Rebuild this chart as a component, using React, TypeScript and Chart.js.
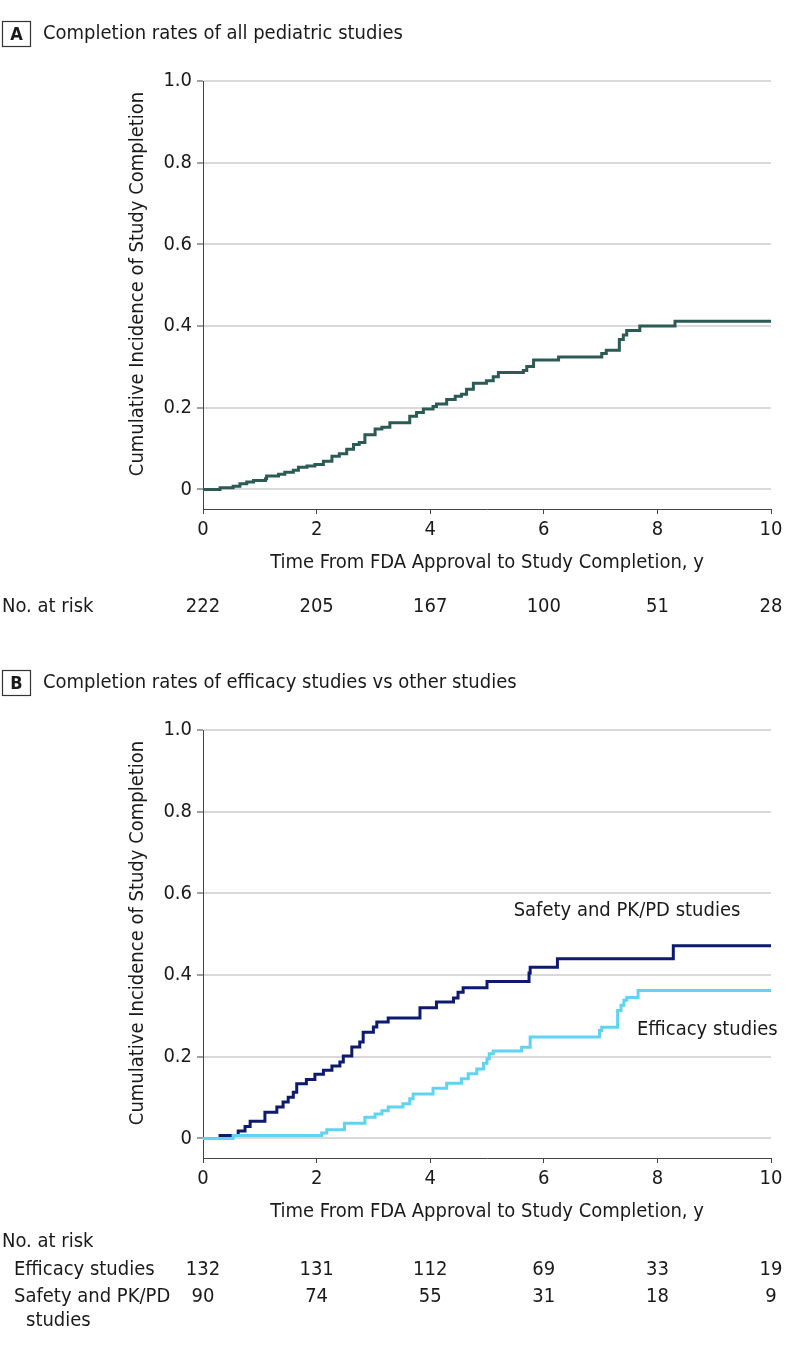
import React, { useEffect, useRef } from "react";
import { Chart, registerables } from "chart.js";
Chart.register(...registerables);

const FONT = "'DejaVu Sans Condensed', 'DejaVu Sans', sans-serif";
const TEXT = "#1a1a1a";

const xTickValues = [0, 2, 4, 6, 8, 10];
const yTickValues = [0, 0.2, 0.4, 0.6, 0.8, 1.0];

const xTitle = "Time From FDA Approval to Study Completion, y";
const yTitle = "Cumulative Incidence of Study Completion";

// Panel A: all pediatric studies
const allTimes = [0, 0.30, 0.53, 0.65, 0.77, 0.89, 1.10, 1.12, 1.33, 1.44, 1.59, 1.68, 1.83, 1.97, 2.12, 2.27, 2.40, 2.53, 2.65, 2.75, 2.85, 3.03, 3.15, 3.29, 3.64, 3.76, 3.88, 4.05, 4.11, 4.29, 4.44, 4.55, 4.64, 4.76, 4.99, 5.11, 5.20, 5.64, 5.70, 5.82, 6.26, 7.02, 7.10, 7.33, 7.40, 7.46, 7.69, 8.31, 10.0];
const allValues = [0, 0.004, 0.008, 0.014, 0.018, 0.022, 0.026, 0.033, 0.037, 0.042, 0.047, 0.054, 0.057, 0.061, 0.069, 0.081, 0.087, 0.098, 0.110, 0.115, 0.134, 0.148, 0.152, 0.163, 0.179, 0.188, 0.197, 0.203, 0.209, 0.220, 0.228, 0.233, 0.245, 0.260, 0.266, 0.276, 0.286, 0.291, 0.301, 0.317, 0.324, 0.333, 0.341, 0.367, 0.378, 0.389, 0.400, 0.412, 0.412];
const atRiskAll = [222, 205, 167, 100, 51, 28];

// Panel B: safety and PK/PD studies
const safTimes = [0, 0.30, 0.62, 0.74, 0.83, 1.09, 1.30, 1.41, 1.50, 1.59, 1.65, 1.82, 1.97, 2.12, 2.27, 2.41, 2.47, 2.62, 2.76, 2.82, 3.00, 3.06, 3.26, 3.82, 4.11, 4.41, 4.49, 4.58, 5.00, 5.74, 5.76, 6.24, 8.28, 10.0];
const safValues = [0, 0.007, 0.018, 0.029, 0.042, 0.064, 0.077, 0.089, 0.101, 0.113, 0.134, 0.144, 0.157, 0.167, 0.177, 0.187, 0.202, 0.224, 0.236, 0.260, 0.273, 0.285, 0.295, 0.320, 0.334, 0.344, 0.358, 0.369, 0.384, 0.405, 0.419, 0.440, 0.472, 0.472];
// Panel B: efficacy studies
const effTimes = [0, 0.53, 2.09, 2.18, 2.49, 2.85, 3.03, 3.15, 3.26, 3.52, 3.64, 3.70, 4.05, 4.29, 4.55, 4.67, 4.82, 4.94, 5.00, 5.04, 5.11, 5.61, 5.76, 6.98, 7.02, 7.30, 7.36, 7.41, 7.46, 7.66, 10.0];
const effValues = [0, 0.007, 0.013, 0.021, 0.037, 0.052, 0.060, 0.068, 0.077, 0.085, 0.097, 0.109, 0.123, 0.135, 0.146, 0.158, 0.170, 0.184, 0.195, 0.207, 0.214, 0.223, 0.248, 0.264, 0.272, 0.313, 0.326, 0.338, 0.345, 0.362, 0.362];
const atRiskEff = [132, 131, 112, 69, 33, 19];
const atRiskSaf = [90, 74, 55, 31, 18, 9];

const COLOR_ALL = "#2c5a55";
const COLOR_SAF = "#0d1a6e";
const COLOR_EFF = "#5fd3f1";

const pts = (t: number[], v: number[]) => t.map((x, i) => ({ x, y: v[i] }));

type TextItem = { text: string; x: number; y: number; align?: CanvasTextAlign };
type RiskRow = { values: number[]; y: number };

function makeExtras(letter: string, title: string, labels: TextItem[], rows: RiskRow[]) {
  return {
    id: "extras",
    afterDraw(chart: any) {
      const ctx: CanvasRenderingContext2D = chart.ctx;
      const xs = chart.scales.x;
      ctx.save();
      ctx.fillStyle = TEXT;
      ctx.textBaseline = "middle";
      // header box
      ctx.strokeStyle = "#333";
      ctx.lineWidth = 1.2;
      ctx.strokeRect(2.5, 21.5, 28, 25);
      ctx.font = `bold 18px ${FONT}`;
      ctx.textAlign = "center";
      ctx.fillText(letter, 16.5, 35);
      ctx.font = `20px ${FONT}`;
      ctx.textAlign = "left";
      ctx.fillText(title, 43, 34);
      // y title
      ctx.save();
      ctx.translate(138, 284);
      ctx.rotate(-Math.PI / 2);
      ctx.textAlign = "center";
      ctx.fillText(yTitle, 0, 0);
      ctx.restore();
      // x title
      ctx.textAlign = "center";
      ctx.fillText(xTitle, (chart.chartArea.left + chart.chartArea.right) / 2, 563);
      // labels
      labels.forEach((l) => {
        ctx.textAlign = l.align || "left";
        ctx.fillText(l.text, l.x, l.y);
      });
      // at-risk numbers
      rows.forEach((r) => {
        ctx.textAlign = "center";
        r.values.forEach((v, i) => {
          ctx.fillText(String(v), xs.getPixelForValue(xTickValues[i]), r.y);
        });
      });
      ctx.restore();
    },
  };
}

function buildConfig(height: number, datasets: any[], plugin: any) {
  return {
    type: "line" as const,
    data: { datasets },
    plugins: [plugin],
    options: {
      responsive: false,
      animation: false as const,
      events: [],
      layout: { padding: { top: 81, right: 27, left: 0, bottom: 0 } },
      plugins: { legend: { display: false }, tooltip: { enabled: false } },
      elements: { point: { radius: 0 } },
      scales: {
        x: {
          type: "linear" as const,
          min: 0,
          max: 10,
          afterFit: (s: any) => { s.height = height - 509; },
          afterBuildTicks: (s: any) => { s.ticks = xTickValues.map((v) => ({ value: v })); },
          ticks: { color: TEXT, font: { family: FONT, size: 20 }, padding: 4, maxRotation: 0 },
          grid: { drawOnChartArea: false, drawTicks: true, tickLength: 5, tickColor: "#444", tickWidth: 1 },
          border: { display: true, color: "#444", width: 1 },
        },
        y: {
          type: "linear" as const,
          min: -0.048,
          max: 1.0,
          afterFit: (s: any) => { s.width = 203; },
          afterBuildTicks: (s: any) => { s.ticks = yTickValues.map((v) => ({ value: v })); },
          ticks: {
            color: TEXT,
            font: { family: FONT, size: 20 },
            padding: 5,
            callback: (v: any) => (v === 0 ? "0" : Number(v).toFixed(1)),
          },
          grid: { color: "#d9d9d9", lineWidth: 2, drawTicks: true, tickLength: 6, tickColor: "#444", tickWidth: 1 },
          border: { display: true, color: "#444", width: 1 },
        },
      },
    },
  };
}

function Panel({ height, datasets, plugin }: { height: number; datasets: any[]; plugin: any }) {
  const ref = useRef<HTMLCanvasElement | null>(null);
  useEffect(() => {
    if (!ref.current) return;
    const chart = new Chart(ref.current, buildConfig(height, datasets, plugin) as any);
    return () => chart.destroy();
  }, []);
  return <canvas ref={ref} width={798} height={height} style={{ display: "block", width: 798, height }} />;
}

export default function App() {
  const dsA = [
    { data: pts(allTimes, allValues), borderColor: COLOR_ALL, borderWidth: 3, stepped: "before", fill: false },
  ];
  const dsB = [
    { data: pts(effTimes, effValues), borderColor: COLOR_EFF, borderWidth: 3, stepped: "before", fill: false, order: 0 },
    { data: pts(safTimes, safValues), borderColor: COLOR_SAF, borderWidth: 3, stepped: "before", fill: false, order: 1 },
  ];
  const pluginA = makeExtras("A", "Completion rates of all pediatric studies", [
    { text: "No. at risk", x: 2, y: 607 },
  ], [{ values: atRiskAll, y: 607 }]);
  const pluginB = makeExtras("B", "Completion rates of efficacy studies vs other studies", [
    { text: "Safety and PK/PD studies", x: 627, y: 262, align: "center" },
    { text: "Efficacy studies", x: 637, y: 381 },
    { text: "No. at risk", x: 2, y: 593 },
    { text: "Efficacy studies", x: 14, y: 621 },
    { text: "Safety and PK/PD", x: 14, y: 648 },
    { text: "studies", x: 26, y: 672 },
  ], [
    { values: atRiskEff, y: 621 },
    { values: atRiskSaf, y: 648 },
  ]);
  return (
    <div style={{ position: "absolute", left: 0, top: 0, width: 798, height: 1351, background: "#fff" }}>
      <Panel height={649} datasets={dsA} plugin={pluginA} />
      <Panel height={702} datasets={dsB} plugin={pluginB} />
    </div>
  );
}
